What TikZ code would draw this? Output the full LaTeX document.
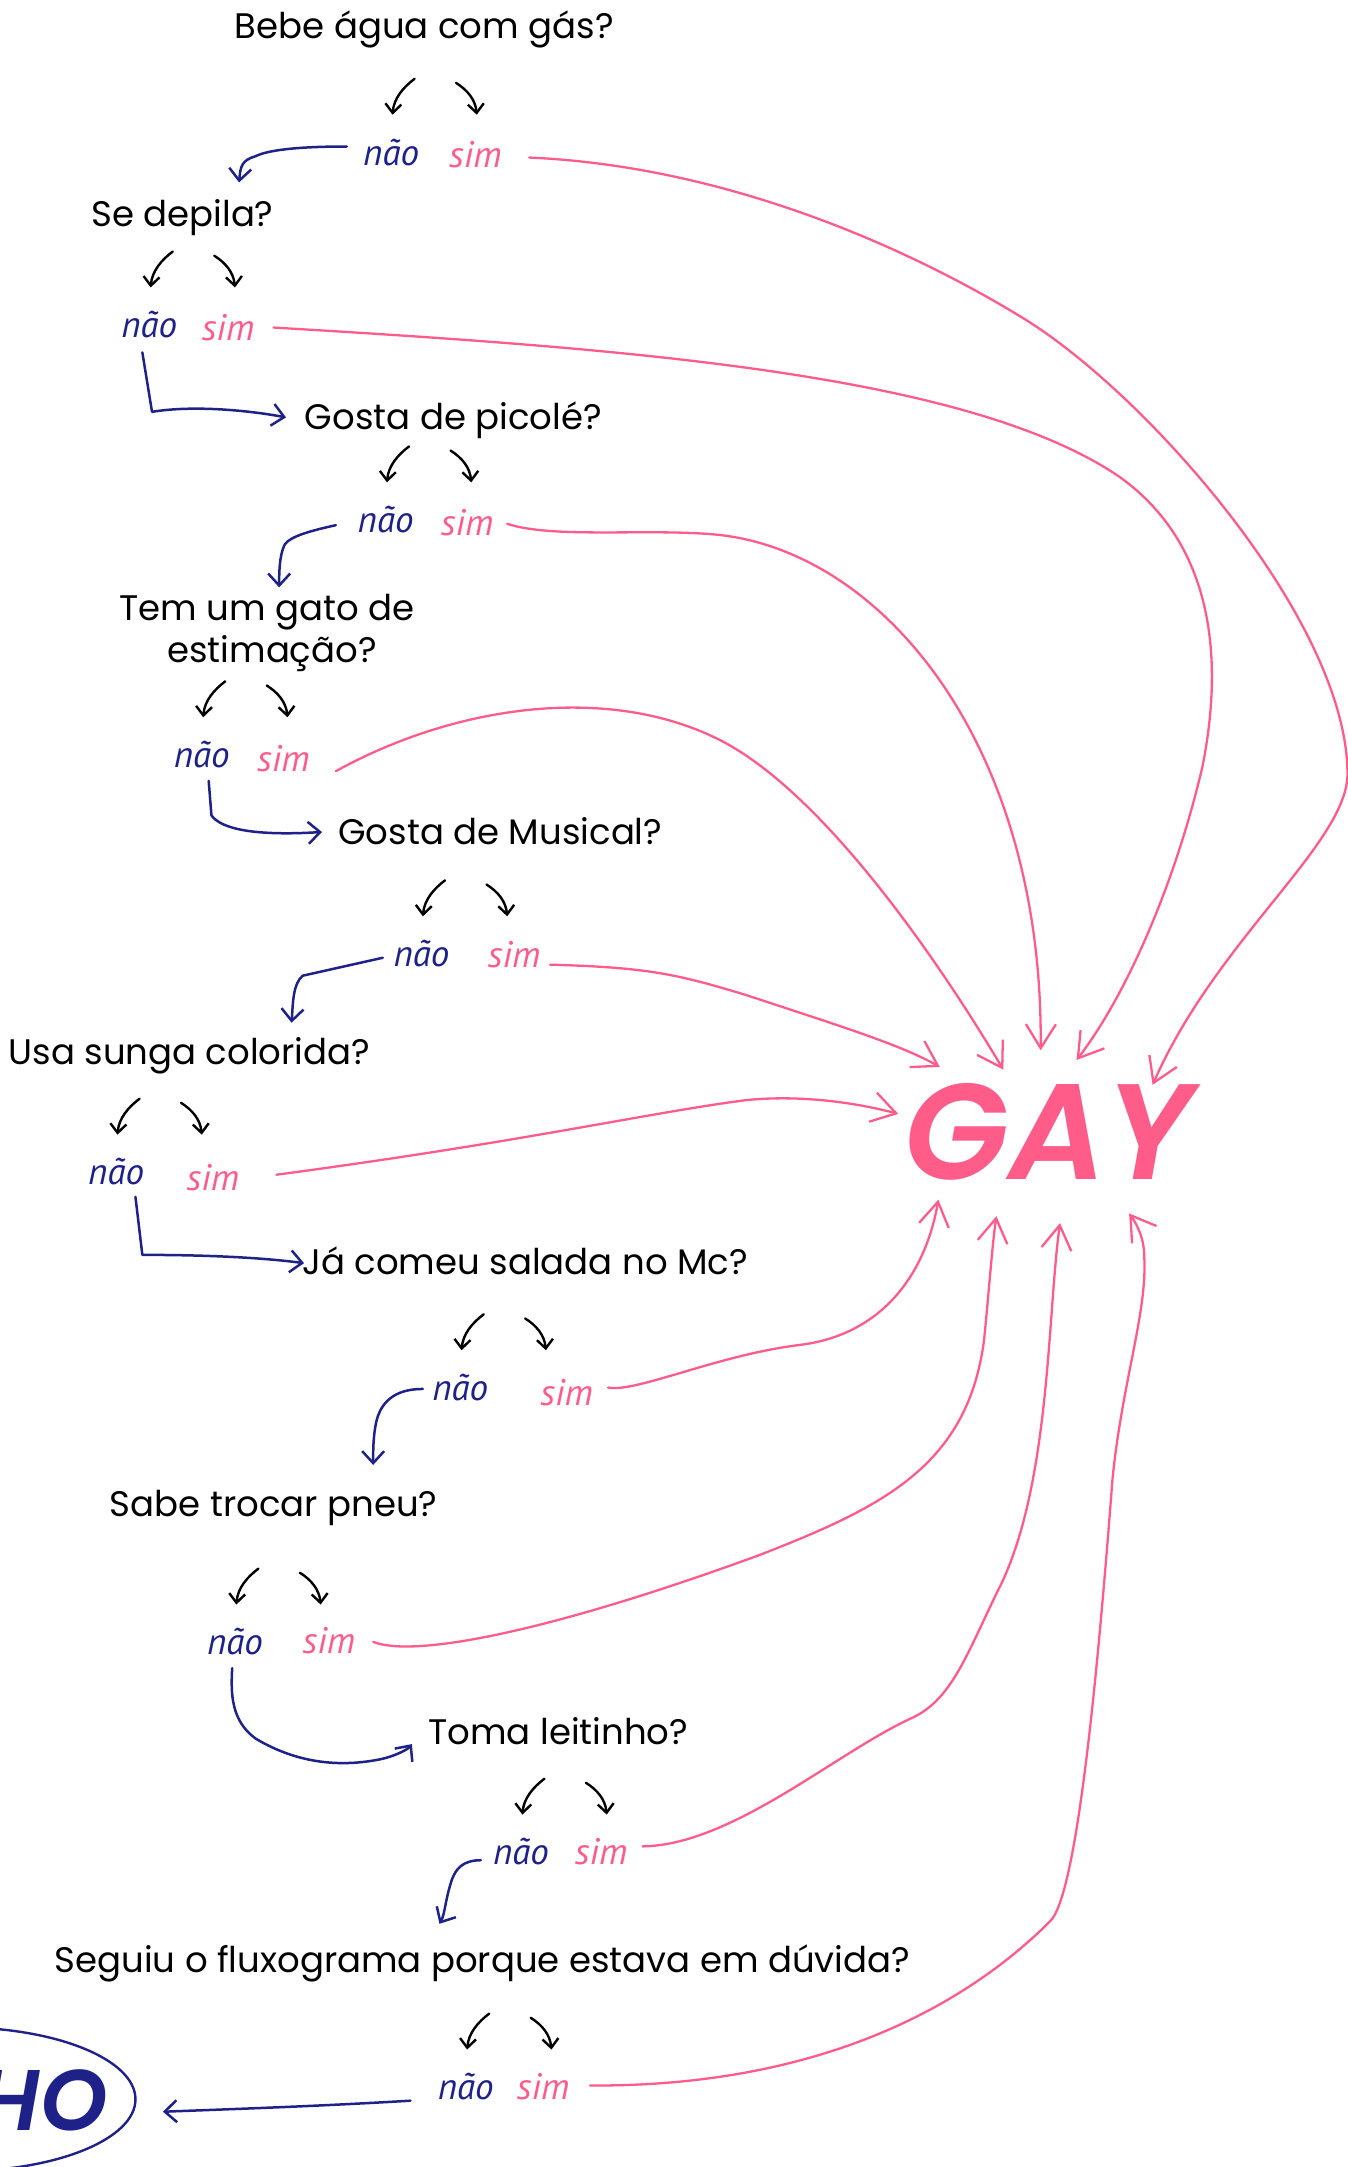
\documentclass[tikz,border=0pt]{standalone}
\usepackage{fontspec}
\setmainfont{Poppins}
\newfontfamily\handfont{PT Sans}
\newfontfamily\gayfont{Poppins SemiBold Italic}
\usetikzlibrary{arrows.meta,calc,shapes.geometric}
\definecolor{gpink}{RGB}{255,92,138}
\definecolor{gnavy}{RGB}{30,34,136}
\begin{document}
\begin{tikzpicture}[x=1.3826pt,y=-1.3826pt,
  line cap=round, line join=round,
  question/.style={font=\fontsize{35.5}{42}\selectfont, text=black, inner sep=0pt, anchor=base},
  naolbl/.style={font=\handfont\itshape\fontsize{37}{40}\selectfont, text=gnavy, inner sep=0pt},
  simlbl/.style={font=\handfont\itshape\fontsize{37}{40}\selectfont, text=gpink, inner sep=0pt},
  forkarrow/.style={draw=black, line width=2.4pt, -{Straight Barb[length=9pt,width=16pt]}},
  noline/.style={draw=gnavy, line width=2.5pt, -{Straight Barb[length=12pt,width=22pt]}},
  yesline/.style={draw=gpink, line width=2.3pt, -{Straight Barb[length=24pt,width=30pt]}},
  forks/.pic={\draw[forkarrow] (17,-53) .. controls (9,-47) and (2,-39) .. (1,-27);
              \draw[forkarrow] (47,-50) .. controls (55,-45) and (61,-38) .. (62,-27);}
]
\useasboundingbox (0,0) rectangle (975,1568);

% questions
\node[question] (q1) at (307,28) {Bebe água com gás?};
\node[question] (q2) at (132,164) {Se depila?};
\node[question] (q3) at (328,311) {Gosta de picolé?};
\node[question, anchor=center, align=center] (q4) at (193,458) {Tem um gato de\\\hspace*{0.3em}estimação?};
\node[question] (q5) at (362,611) {Gosta de Musical?};
\node[question] (q6) at (137,770) {Usa sunga colorida?};
\node[question] (q7) at (380,922) {Já comeu salada no Mc?};
\node[question] (q8) at (198,1097) {Sabe trocar pneu?};
\node[question] (q9) at (404,1262) {Toma leitinho?};
\node[question] (q10) at (349,1427) {Seguiu o fluxograma porque estava em dúvida?};

% answers
\node[naolbl] (n1) at (283,110) {não};  \node[simlbl] (s1) at (344,112) {sim};
\node[naolbl] (n2) at (108,235) {não};  \node[simlbl] (s2) at (165,237) {sim};
\node[naolbl] (n3) at (279,376) {não};  \node[simlbl] (s3) at (338,378) {sim};
\node[naolbl] (n4) at (146,546) {não};  \node[simlbl] (s4) at (205,549) {sim};
\node[naolbl] (n5) at (305,690) {não};  \node[simlbl] (s5) at (372,691) {sim};
\node[naolbl] (n6) at (84,848) {não};   \node[simlbl] (s6) at (154,852) {sim};
\node[naolbl] (n7) at (333,1004) {não}; \node[simlbl] (s7) at (410,1008) {sim};
\node[naolbl] (n8) at (170,1188) {não}; \node[simlbl] (s8) at (238,1187) {sim};
\node[naolbl] (n9) at (377,1340) {não}; \node[simlbl] (s9) at (435,1340) {sim};
\node[naolbl] (n10) at (337,1510) {não}; \node[simlbl] (s10) at (393,1510) {sim};

% forks
\foreach \n in {n1,n2,n3,n4,n5,n6,n7,n8,n9,n10} \pic at (\n) {forks};

% results
\node[font=\gayfont\fontsize{136}{140}\selectfont, text=gpink, inner sep=0pt] (gay) at (759,819) {GAY};
\node[draw=gnavy, line width=2.4pt, ellipse, minimum width=354pt, minimum height=144pt, inner sep=0pt] (ho) at (-30,1519) {};
\node[font=\gayfont\fontsize{86}{90}\selectfont, text=gnavy, inner sep=0pt, anchor=east] (hotext) at (78,1520) {HO};

% "não" connectors
\draw[noline] ($(n1)+(-32,-4)$) .. controls (220,106) and (195,108) .. (185,113) .. controls (175,116) and (174,120) .. ($(q2.base)+(41,-32)$);
\draw[noline] ($(n2)+(-5,20)$) -- (110,298) .. controls (140,293) and (180,297) .. ($(q3.base)+(-121,-9)$);
\draw[noline] ($(n3)+(-36,4)$) .. controls (225,384) and (210,388) .. (206,394) .. controls (202,402) and (202,415) .. ($(q4)+(9,-33)$);
\draw[noline] ($(n4)+(5,19)$) -- (153,590) .. controls (160,600) and (185,605) .. ($(q5.base)+(-129,-9)$);
\draw[noline] ($(n5)+(-28,3)$) -- (219,706) .. controls (212,712) and (212,725) .. ($(q6.base)+(74,-30)$);
\draw[noline] ($(n6)+(14,18)$) -- (103,908) .. controls (150,908) and (190,910) .. ($(q7.base)+(-160,-8)$);
\draw[noline] ($(n7)+(-27,1)$) .. controls (285,1005) and (275,1015) .. (272,1030) .. controls (270,1040) and (270,1050) .. ($(q8.base)+(72,-37)$);
\draw[noline] ($(n8)+(-2,19)$) .. controls (167,1225) and (167,1245) .. (185,1258) .. controls (210,1273) and (240,1280) .. (275,1273) .. controls (285,1271) and (295,1266) .. ($(q9.base)+(-106,0)$);
\draw[noline] ($(n9)+(-29,6)$) .. controls (335,1346) and (330,1352) .. (327,1360) .. controls (322,1375) and (322,1385) .. ($(q10.base)+(-31,-35)$);
\draw[noline] ($(n10)+(-40,10)$) .. controls (230,1524) and (170,1526) .. ($(ho.east)+(19,9)$);

% "sim" connectors
\draw[yesline] ($(s1)+(39,2)$) .. controls (520,120) and (650,175) .. (740,230) .. controls (830,285) and (975,450) .. (975,560) .. controls (975,610) and (880,680) .. ($(gay)+(75,-34)$);
\draw[yesline] ($(s2)+(33,0)$) .. controls (450,252) and (700,270) .. (810,345) .. controls (880,395) and (885,480) .. (870,555) .. controls (850,640) and (815,720) .. ($(gay)+(20,-52)$);
\draw[yesline] ($(s3)+(29,1)$) .. controls (400,390) and (470,382) .. (520,387) .. controls (640,400) and (755,540) .. ($(gay)+(-6,-59)$);
\draw[yesline] ($(s4)+(38,9)$) .. controls (330,510) and (440,495) .. (520,535) .. controls (590,570) and (670,680) .. ($(gay)+(-33,-45)$);
\draw[yesline] ($(s5)+(26,7)$) .. controls (470,700) and (490,705) .. (540,720) .. controls (600,740) and (650,755) .. ($(gay)+(-79,-47)$);
\draw[yesline] ($(s6)+(46,-2)$) .. controls (380,826) and (470,805) .. (540,796) .. controls (580,792) and (620,798) .. ($(gay)+(-109,-13)$);
\draw[yesline] ($(s7)+(30,-4)$) .. controls (460,1008) and (520,980) .. (580,973) .. controls (640,965) and (670,920) .. ($(gay)+(-80,49)$);
\draw[yesline] ($(s8)+(32,1)$) .. controls (300,1200) and (400,1180) .. (550,1125) .. controls (640,1090) and (700,1060) .. (712,970) .. controls (716,930) and (718,900) .. ($(gay)+(-38,61)$);
\draw[yesline] ($(s9)+(30,-4)$) .. controls (530,1335) and (605,1268) .. (660,1243) .. controls (690,1229) and (700,1195) .. (725,1145) .. controls (760,1070) and (758,950) .. ($(gay)+(8,66)$);
\draw[yesline] ($(s10)+(34,-1)$) .. controls (580,1510) and (690,1460) .. (760,1390) .. controls (780,1370) and (795,1200) .. (805,1070) .. controls (812,1000) and (830,950) .. (828,910) .. controls (828,895) and (822,885) .. ($(gay)+(58,59)$);
\end{tikzpicture}
\end{document}
